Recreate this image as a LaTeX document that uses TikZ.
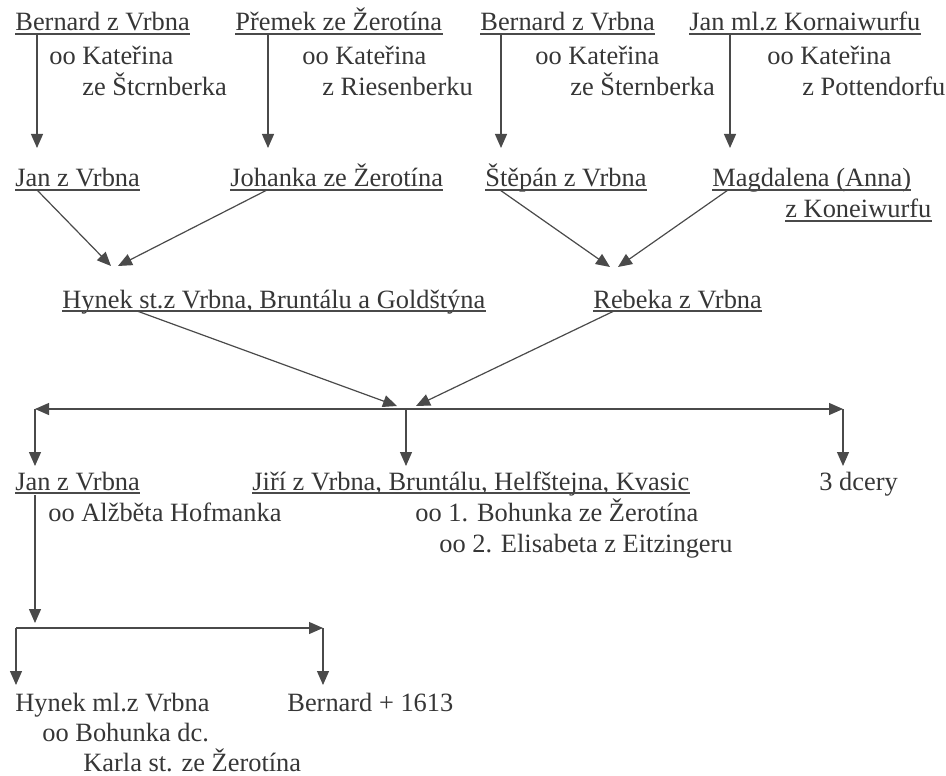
\documentclass[tikz,border=0pt]{standalone}
\usepackage{fontspec}
\setmainfont{Liberation Serif}
\usepackage{tikz}
\usetikzlibrary{arrows.meta}
\definecolor{ink}{HTML}{363636}
\definecolor{ln}{HTML}{4A4A4A}
\tikzset{N/.style={inner sep=0pt, anchor=base west, text=ink, font=\fontsize{13.2}{15}\selectfont}}
\tikzset{U/.style={N, append after command={([yshift=-1.5pt]\tikzlastnode.base west) edge[draw=ln, line width=0.7pt] ([yshift=-1.5pt]\tikzlastnode.base east)}}}
\tikzset{L/.style={draw=ln, line width=0.6pt}}
\tikzset{E/.style={L, -{Triangle[length=7pt,width=6pt]}}}

\begin{document}
\begin{tikzpicture}[x=0.5pt, y=-0.5pt]
        \useasboundingbox (0,0) rectangle (946,775);
        %% Top couples
        \node[U] (b1) at (15,31) {Bernard z Vrbna};
        \node[N] (b1w) at (49,65) {oo Kateřina};
        \node[N] (b1w') at (82,96) {ze Štcrnberka};
        \node[U] (p1) at (235,31) {Přemek ze Žerotína};
        \node[N] (p1w) at (302,65) {oo Kateřina};
        \node[N] (p1w') at (322,96) {z Riesenberku};
        \node[U] (b2) at (480,31) {Bernard z Vrbna};
        \node[N] (b2w) at (535,65) {oo Kateřina};
        \node[N] (b2w') at (570,96) {ze Šternberka};
        \node[U] (k1) at (689,31) {Jan ml.z Kornaiwurfu};
        \node[N] (k1w) at (767,65) {oo Kateřina};
        \node[N] (k1w') at (802,96) {z Pottendorfu};
        %% Children
        \node[U] (jan1) at (15,187) {Jan z Vrbna};
        \node[U] (joh) at (230,187) {Johanka ze Žerotína};
        \node[U] (ste) at (485,187) {Štěpán z Vrbna};
        \node[U] (mag) at (712,187) {Magdalena (Anna)};
        \node[U] (mag') at (785,218) {z Koneiwurfu};
        %% Grandchildren
        \node[U] (hyn) at (62,308) {Hynek st.z Vrbna, Bruntálu a Goldštýna};
        \node[U] (reb) at (593,308) {Rebeka z Vrbna};
        %% Their children
        \node[U] (jan2) at (15,490) {Jan z Vrbna};
        \node[N] (jan2w) at (48,521) {oo Alžběta Hofmanka};
        \node[U] (jir) at (252,490) {Jiří z Vrbna, Bruntálu, Helfštejna, Kvasic};
        \node[N] (jirw1) at (415,521) {oo 1. Bohunka ze Žerotína};
        \node[N] (jirw2) at (439,552) {oo 2. Elisabeta z Eitzingeru};
        \node[N] (dce) at (819,490) {3 dcery};
        %% Last generation
        \node[N] (hml) at (15,711) {Hynek ml.z Vrbna};
        \node[N] (hmlw) at (42,741) {oo Bohunka dc.};
        \node[N] (hmlw') at (83,771) {Karla st. ze Žerotína};
        \node[N] (ber) at (287,711) {Bernard + 1613};
        \coordinate (busL) at (35,409);
        \coordinate (busM) at (406,409);
        \coordinate (busR) at (843,409);
        \coordinate (forkL) at (16,628);
        \coordinate (forkR) at (323,628);
        %% Top edges
        \draw[E] ([shift={(22,3)}]b1.base west) -- ([shift={(22,-39)}]jan1.base west);
        \draw[E] ([shift={(33,3)}]p1.base west) -- ([shift={(38,-39)}]joh.base west);
        \draw[E] ([shift={(21,3)}]b2.base west) -- ([shift={(16,-39)}]ste.base west);
        \draw[E] ([shift={(41,3)}]k1.base west) -- ([shift={(18,-39)}]mag.base west);
        %% Middle edges
        \draw[E] ([shift={(22,3)}]jan1.base west) -- ([shift={(49,-42)}]hyn.base west);
        \draw[E] ([shift={(37,3)}]joh.base west) -- ([shift={(56,-42)}]hyn.base west);
        \draw[E] ([shift={(15,3)}]ste.base west) -- ([shift={(17,-41)}]reb.base west);
        \draw[E] ([shift={(16,3)}]mag.base west) -- ([shift={(25,-41)}]reb.base west);
        \draw[E] ([shift={(75,3)}]hyn.base west) -- ([shift={(-9,-3)}]busM);
        \draw[E] ([shift={(21,3)}]reb.base west) -- ([shift={(10,-3)}]busM);
        %% Bottom edges
        \draw[L, {Triangle[length=7pt,width=6pt]}-{Triangle[length=7pt,width=6pt]}] (busL) -- (busR);
        \draw[E] (busL) -- ([shift={(20,-24)}]jan2.base west);
        \draw[E] (busM) -- ([shift={(154,-24)}]jir.base west);
        \draw[E] (busR) -- ([shift={(24,-24)}]dce.base west);
        \draw[E] ([shift={(20,5)}]jan2.base west) -- ([shift={(19,-5)}]forkL);
        \draw[E] (forkL) -- (forkR);
        \draw[E] (forkL) -- ([shift={(1,-26)}]hml.base west);
        \draw[E] (forkR) -- ([shift={(36,-26)}]ber.base west);
\end{tikzpicture}
\end{document}
